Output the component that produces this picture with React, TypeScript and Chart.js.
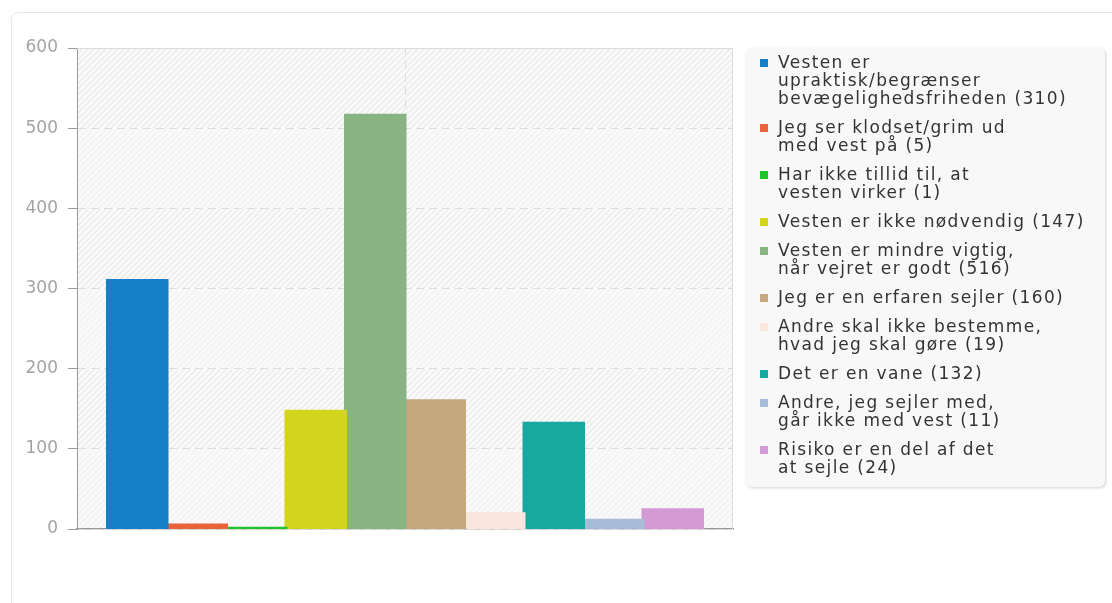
import React, { useEffect, useRef } from "react";
import { Chart, registerables } from "chart.js";

Chart.register(...registerables);

const categories = [""];
const labelLines: string[][] = [
  ["Vesten er", "upraktisk/begrænser", "bevægelighedsfriheden"],
  ["Jeg ser klodset/grim ud", "med vest på"],
  ["Har ikke tillid til, at", "vesten virker"],
  ["Vesten er ikke nødvendig"],
  ["Vesten er mindre vigtig,", "når vejret er godt"],
  ["Jeg er en erfaren sejler"],
  ["Andre skal ikke bestemme,", "hvad jeg skal gøre"],
  ["Det er en vane"],
  ["Andre, jeg sejler med,", "går ikke med vest"],
  ["Risiko er en del af det", "at sejle"],
];
const values = [310, 5, 1, 147, 516, 160, 19, 132, 11, 24];
const colors = [
  "#1580c8",
  "#e8633a",
  "#22c42c",
  "#d2d41e",
  "#88b383",
  "#c6a87f",
  "#fae6df",
  "#17a8a0",
  "#a7bcd6",
  "#d39ad5",
];
const yMin = 0;
const yMax = 600;
const yStep = 100;

const FONT = "'DejaVu Sans', Verdana, sans-serif";

const bgPlugin = {
  id: "hatchBg",
  beforeDraw(chart: any) {
    const { ctx, chartArea } = chart;
    const { left, right, top, bottom } = chartArea;
    const yScale = chart.scales.y;
    ctx.save();
    ctx.fillStyle = "#fafafa";
    ctx.fillRect(left, top, right - left, bottom - top);
    const ticks = yScale.ticks;
    for (let i = 0; i < ticks.length - 1; i++) {
      const yA = yScale.getPixelForValue(ticks[i].value);
      const yB = yScale.getPixelForValue(ticks[i + 1].value);
      const y0 = Math.min(yA, yB);
      const y1 = Math.max(yA, yB);
      ctx.save();
      ctx.beginPath();
      ctx.rect(left, y0, right - left, y1 - y0);
      ctx.clip();
      ctx.strokeStyle = i % 2 === 1 ? "rgba(0,0,0,0.06)" : "rgba(0,0,0,0.035)";
      ctx.lineWidth = 1.5;
      const h = y1 - y0;
      for (let x = left - h; x < right + h; x += 6) {
        ctx.beginPath();
        ctx.moveTo(x, y1);
        ctx.lineTo(x + h, y0);
        ctx.stroke();
      }
      ctx.restore();
    }
    ctx.restore();
  },
  afterDraw(chart: any) {
    const { ctx, chartArea } = chart;
    const { left, right, top, bottom } = chartArea;
    ctx.save();
    ctx.strokeStyle = "#dcdcdc";
    ctx.lineWidth = 1;
    ctx.beginPath();
    ctx.moveTo(left, top + 0.5);
    ctx.lineTo(right, top + 0.5);
    ctx.moveTo(right - 0.5, top);
    ctx.lineTo(right - 0.5, bottom);
    ctx.stroke();
    ctx.restore();
  },
};

export default function App() {
  const canvasRef = useRef<HTMLCanvasElement | null>(null);

  useEffect(() => {
    const canvas = canvasRef.current;
    if (!canvas) return;
    const chart = new Chart(canvas, {
      type: "bar",
      data: {
        labels: categories,
        datasets: values.map((v, i) => ({
          label: labelLines[i].join(" ") + ` (${v})`,
          data: [v],
          backgroundColor: colors[i],
          borderWidth: 0,
          inflateAmount: 1.5,
          categoryPercentage: 0.907,
          barPercentage: 1.0,
        })),
      },
      options: {
        responsive: false,
        animation: false,
        layout: { padding: { left: 0, top: 48, right: 12, bottom: 74 } },
        plugins: {
          legend: { display: false },
          tooltip: { enabled: false },
          title: { display: false },
        },
        scales: {
          x: {
            type: "category",
            ticks: { display: false },
            grid: {
              offset: false,
              color: "#dddddd",
              drawTicks: false,
              lineWidth: 1,
            } as any,
            border: { color: "#999999", width: 1.5, dash: [8, 5], z: -1 } as any,
            afterFit(scale: any) {
              scale.height = 0;
            },
          },
          y: {
            min: yMin,
            max: yMax,
            ticks: {
              stepSize: yStep,
              color: "#a4a4a4",
              padding: 10,
              font: { family: FONT, size: 17 },
            },
            grid: {
              color: "#dddddd",
              tickColor: "#999999",
              tickLength: 9,
              tickBorderDash: [],
              lineWidth: 1,
            } as any,
            border: { color: "#999999", width: 1, dash: [8, 5] } as any,
            afterFit(scale: any) {
              scale.width = 77;
            },
          },
        },
      },
      plugins: [bgPlugin],
    });
    return () => chart.destroy();
  }, []);

  return (
    <div
      style={{
        position: "fixed",
        left: 0,
        top: 0,
        width: 1112,
        height: 603,
        overflow: "hidden",
        background: "#ffffff",
        fontFamily: FONT,
      }}
    >
      <div
        style={{
          position: "absolute",
          left: 11,
          top: 12,
          width: 1140,
          height: 640,
          border: "1px solid #e8e8e8",
          borderRadius: 7,
          background: "#ffffff",
          boxSizing: "border-box",
        }}
      />
      <canvas
        ref={canvasRef}
        width={745}
        height={603}
        style={{ position: "absolute", left: 0, top: 0, width: 745, height: 603 }}
      />
      <div
        style={{
          position: "absolute",
          left: 746,
          top: 48,
          width: 359,
          height: 439,
          boxSizing: "border-box",
          background: "#f8f8f8",
          borderRadius: 6,
          boxShadow: "1px 1px 3px rgba(0,0,0,0.18)",
          paddingTop: 5,
        }}
      >
        {values.map((v, i) => (
          <div
            key={i}
            style={{ position: "relative", paddingLeft: 32, marginBottom: 11 }}
          >
            <span
              style={{
                position: "absolute",
                left: 14,
                top: 6,
                width: 8,
                height: 8,
                background: colors[i],
              }}
            />
            {labelLines[i].map((line, j) => (
              <div
                key={j}
                style={{
                  fontSize: 17,
                  lineHeight: "18px",
                  height: 18,
                  whiteSpace: "nowrap",
                  color: "#333333",
                  letterSpacing: "1.35px",
                }}
              >
                {j === labelLines[i].length - 1 ? `${line} (${v})` : line}
              </div>
            ))}
          </div>
        ))}
      </div>
    </div>
  );
}
